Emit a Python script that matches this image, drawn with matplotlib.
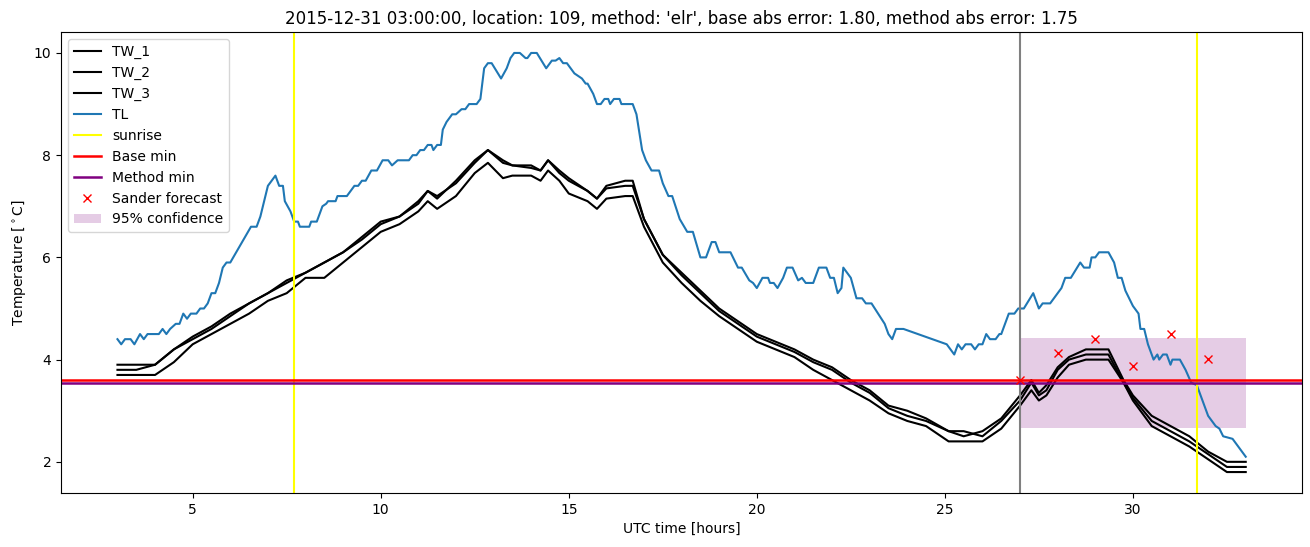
import matplotlib
matplotlib.use("Agg")
import matplotlib.pyplot as plt
import numpy as np

# ---- data ----
tl_t = [3.0, 3.1, 3.2, 3.35, 3.45, 3.6, 3.7, 3.8, 4.1, 4.2, 4.3, 4.4, 4.55, 4.65, 4.75, 4.85, 4.95,
        5.1, 5.2, 5.3, 5.4, 5.5, 5.6, 5.7, 5.8, 5.9, 6.0, 6.55, 6.7, 6.8, 7.0, 7.2, 7.3, 7.4, 7.45,
        7.6, 7.7, 7.8, 7.85, 8.1, 8.15, 8.3, 8.45, 8.55, 8.6, 8.8, 8.85, 9.1, 9.3, 9.4, 9.5, 9.6,
        9.75, 9.9, 10.05, 10.2, 10.3, 10.45, 10.75, 10.85, 10.95, 11.05, 11.15, 11.25, 11.35, 11.4,
        11.5, 11.6, 11.65, 11.75, 11.9, 12.0, 12.15, 12.25, 12.35, 12.55, 12.65, 12.75, 12.85,
        12.95, 13.2, 13.35, 13.45, 13.55, 13.7, 13.85, 13.9, 14.0, 14.15, 14.4, 14.55, 14.65,
        14.75, 14.85, 14.95, 15.05, 15.15, 15.25, 15.35, 15.45, 15.5, 15.65, 15.75, 15.85, 15.95,
        16.05, 16.1, 16.2, 16.35, 16.4, 16.7, 16.8, 16.95, 17.05, 17.2, 17.4, 17.5, 17.65, 17.75,
        17.95, 18.15, 18.3, 18.5, 18.65, 18.7, 18.8, 18.9, 19.0, 19.3, 19.5, 19.6, 19.8, 19.9,
        20.0, 20.15, 20.3, 20.35, 20.45, 20.55, 20.7, 20.8, 20.95, 21.1, 21.2, 21.3, 21.5, 21.65,
        21.85, 21.95, 22.05, 22.15, 22.25, 22.3, 22.5, 22.65, 22.8, 22.9, 23.05, 23.4, 23.5, 23.6,
        23.7, 23.9, 25.05, 25.25, 25.35, 25.45, 25.55, 25.7, 25.8, 25.9, 26.0, 26.1, 26.2, 26.35,
        26.45, 26.5, 26.6, 26.7, 26.85, 26.95, 27.1, 27.35, 27.5, 27.6, 27.8, 28.0, 28.1, 28.2,
        28.35, 28.6, 28.7, 28.85, 28.9, 29.0, 29.1, 29.35, 29.5, 29.6, 29.7, 29.8, 30.0, 30.15,
        30.2, 30.3, 30.4, 30.55, 30.65, 30.7, 30.8, 30.9, 31.0, 31.05, 31.25, 31.4, 31.55, 31.7,
        31.85, 32.0, 32.2, 32.3, 32.4, 32.65, 32.8, 33.0]
tl_v = [4.4, 4.3, 4.4, 4.4, 4.3, 4.5, 4.4, 4.5, 4.5, 4.6, 4.5, 4.6, 4.7, 4.7, 4.9, 4.8, 4.9,
        4.9, 5.0, 5.0, 5.1, 5.3, 5.3, 5.5, 5.8, 5.9, 5.9, 6.6, 6.6, 6.8, 7.4, 7.6, 7.4, 7.4, 7.1,
        6.9, 6.7, 6.7, 6.6, 6.6, 6.7, 6.7, 7.0, 7.05, 7.1, 7.1, 7.2, 7.2, 7.4, 7.4, 7.5, 7.5,
        7.7, 7.7, 7.9, 7.9, 7.8, 7.9, 7.9, 8.0, 8.0, 8.1, 8.1, 8.2, 8.2, 8.1,
        8.2, 8.2, 8.5, 8.65, 8.8, 8.8, 8.9, 8.9, 9.0, 9.0, 9.1, 9.7, 9.8,
        9.8, 9.5, 9.7, 9.9, 10.0, 10.0, 9.9, 9.9, 10.0, 10.0, 9.7, 9.85, 9.85,
        9.9, 9.8, 9.8, 9.7, 9.6, 9.55, 9.5, 9.4, 9.4, 9.2, 9.0, 9.0, 9.1,
        9.1, 9.0, 9.1, 9.1, 9.0, 9.0, 8.8, 8.1, 7.9, 7.7, 7.7, 7.45, 7.2, 7.2,
        6.75, 6.5, 6.5, 6.0, 6.0, 6.1, 6.3, 6.3, 6.1, 6.1, 5.8, 5.8, 5.55, 5.5,
        5.4, 5.6, 5.6, 5.5, 5.5, 5.4, 5.6, 5.8, 5.8, 5.55, 5.6, 5.5, 5.5, 5.8,
        5.8, 5.6, 5.6, 5.3, 5.4, 5.8, 5.6, 5.2, 5.2, 5.1, 5.1, 4.7, 4.5, 4.4,
        4.6, 4.6, 4.3, 4.1, 4.3, 4.2, 4.3, 4.3, 4.2, 4.3, 4.3, 4.5, 4.4, 4.4,
        4.5, 4.5, 4.7, 4.9, 4.9, 5.0, 5.0, 5.3, 5.0, 5.1, 5.1, 5.3, 5.4, 5.6,
        5.6, 5.9, 5.8, 5.8, 6.0, 6.0, 6.1, 6.1, 5.9, 5.6, 5.6, 5.35, 5.05, 4.9,
        4.6, 4.6, 4.3, 4.0, 4.1, 4.0, 4.1, 4.1, 3.9, 4.0, 4.0, 3.8, 3.55, 3.5,
        3.2, 2.9, 2.7, 2.65, 2.5, 2.45, 2.3, 2.1]

tw_t = [3.0, 3.5, 4.0, 4.5, 5.0, 5.5, 6.0, 6.5, 7.0, 7.5, 8.0, 8.5, 9.0, 9.5, 10.0, 10.5, 11.0,
        11.25, 11.5, 12.0, 12.5, 12.85, 13.25, 13.5, 14.0, 14.25, 14.45, 14.75, 15.0, 15.5,
        15.75, 16.0, 16.5, 16.7, 17.0, 17.5, 18.0, 18.5, 19.0, 19.5, 20.0, 20.5, 21.0, 21.5,
        22.0, 22.5, 23.0, 23.5, 24.0, 24.5, 25.1, 25.5, 26.0, 26.5, 27.0, 27.3, 27.5, 27.7,
        28.0, 28.3, 28.75, 29.35, 29.75, 30.0, 30.5, 31.0, 31.5, 32.0, 32.5, 33.0]
tw_1 = [3.9, 3.9, 3.9, 4.2, 4.45, 4.65, 4.9, 5.1, 5.3, 5.55, 5.7, 5.9, 6.1, 6.4, 6.7, 6.8, 7.1,
        7.3, 7.15, 7.5, 7.9, 8.1, 7.85, 7.8, 7.8, 7.7, 7.9, 7.7, 7.55, 7.3,
        7.15, 7.4, 7.5, 7.5, 6.75, 6.05, 5.7, 5.35, 5.0, 4.75, 4.5, 4.35, 4.2, 4.0,
        3.85, 3.6, 3.4, 3.1, 3.0, 2.85, 2.6, 2.5, 2.6, 2.85, 3.3, 3.6, 3.35, 3.5,
        3.85, 4.05, 4.2, 4.2, 3.6, 3.3, 2.9, 2.7, 2.5, 2.2, 2.0, 2.0]
tw_2 = [3.8, 3.8, 3.9, 4.2, 4.4, 4.6, 4.85, 5.1, 5.3, 5.5, 5.7, 5.9, 6.1, 6.35, 6.65, 6.8, 7.05,
        7.3, 7.2, 7.45, 7.85, 8.1, 7.9, 7.8, 7.75, 7.7, 7.9, 7.65, 7.5, 7.3,
        7.15, 7.35, 7.4, 7.4, 6.75, 6.05, 5.65, 5.3, 4.95, 4.7, 4.45, 4.3, 4.15, 3.95,
        3.8, 3.55, 3.35, 3.05, 2.9, 2.8, 2.6, 2.6, 2.5, 2.8, 3.2, 3.55, 3.3, 3.4,
        3.8, 4.0, 4.1, 4.1, 3.55, 3.25, 2.8, 2.6, 2.4, 2.15, 1.9, 1.9]
tw_3 = [3.7, 3.7, 3.7, 3.95, 4.3, 4.5, 4.7, 4.9, 5.15, 5.3, 5.6, 5.6, 5.9, 6.2, 6.5, 6.65, 6.9,
        7.1, 6.95, 7.2, 7.65, 7.85, 7.55, 7.6, 7.6, 7.5, 7.7, 7.5, 7.25, 7.1,
        6.95, 7.15, 7.2, 7.2, 6.6, 5.9, 5.5, 5.15, 4.85, 4.6, 4.35, 4.2, 4.05, 3.8,
        3.6, 3.4, 3.2, 2.95, 2.8, 2.7, 2.4, 2.4, 2.4, 2.65, 3.1, 3.4, 3.2, 3.3,
        3.65, 3.9, 4.0, 4.0, 3.55, 3.2, 2.7, 2.5, 2.3, 2.05, 1.8, 1.8]

sunrise_times = [7.7, 31.7]
forecast_time = 27.0
base_min = 3.6
method_min = 3.55
sander_t = [27, 28, 29, 30, 31, 32]
sander_v = [3.6, 4.13, 4.41, 3.88, 4.5, 4.02]
conf_t = [27, 33]
conf_low = 2.66
conf_high = 4.42

# ---- plot ----
fig = plt.figure(figsize=(13.1, 5.47), dpi=100)
ax = fig.add_axes([0.0466, 0.0987, 0.9474, 0.8428])

ax.plot(tw_t, tw_1, color='black', label='TW_1')
ax.plot(tw_t, tw_2, color='black', label='TW_2')
ax.plot(tw_t, tw_3, color='black', label='TW_3')
ax.plot(tl_t, tl_v, color='tab:blue', label='TL')
ax.axvline(sunrise_times[0], color='yellow', label='sunrise')
ax.axvline(sunrise_times[1], color='yellow')
ax.axvline(forecast_time, color='gray')
ax.axhline(base_min, color='red', lw=1.8, label='Base min')
ax.axhline(method_min, color='purple', lw=1.8, label='Method min')
ax.plot(sander_t, sander_v, 'x', color='red', label='Sander forecast')
ax.fill_between(conf_t, conf_low, conf_high, color='purple', alpha=0.2, lw=0,
                label='95% confidence')

ax.set_title("2015-12-31 03:00:00, location: 109, method: 'elr', base abs error: 1.80, "
             "method abs error: 1.75")
ax.set_xlabel('UTC time [hours]')
ax.set_ylabel(r'Temperature [$^\circ$C]')
ax.legend(loc='upper left')

fig.savefig('out.png', dpi=100)
